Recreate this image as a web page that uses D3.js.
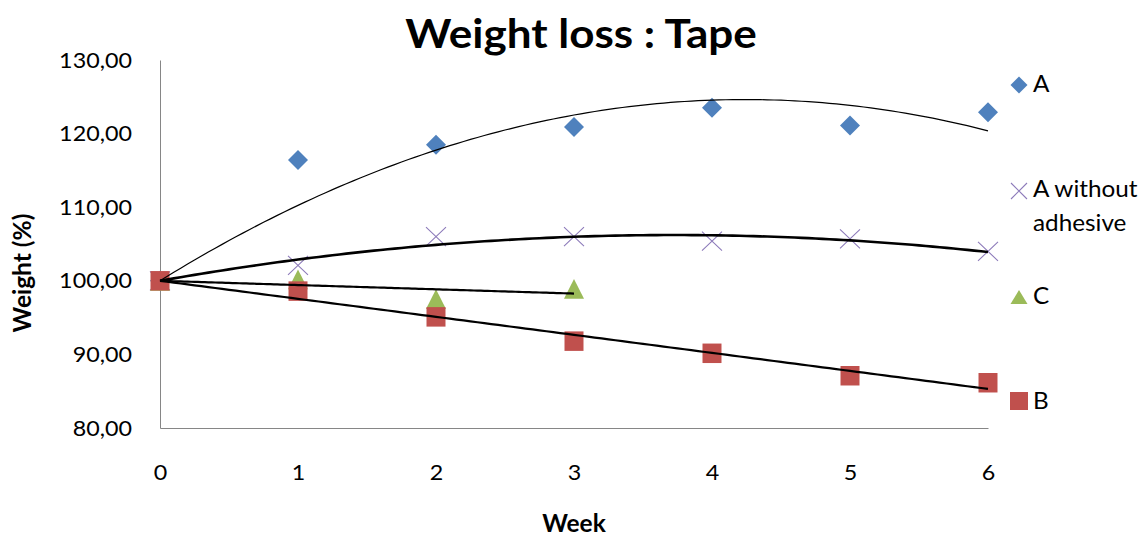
<!DOCTYPE html>
<html><head><meta charset="utf-8">
<script src="https://cdn.jsdelivr.net/npm/d3@7"></script>
<style>
body{margin:0;background:#fff}
svg{display:block}
text{font-family:Lato,"Open Sans",sans-serif;fill:#000}
</style>
</head><body>
<svg id="chart" width="1144" height="536"></svg>
<script>
// ---- data ----
const weeks = [0, 1, 2, 3, 4, 5, 6];
const weeksC = [0, 1, 2, 3];
const seriesA = [100, 116.4, 118.5, 120.9, 123.5, 121.1, 122.9];
const seriesAwo = [100, 102.1, 106.0, 106.0, 105.4, 105.7, 104.0];
const seriesC = [100, 100.2, 97.5, 98.9];
const seriesB = [100, 98.6, 95.1, 91.8, 90.15, 87.1, 86.15];
const yTicks = [80, 90, 100, 110, 120, 130];
const xTicks = [0, 1, 2, 3, 4, 5, 6];
const legendNames = ["A", "A without adhesive", "C", "B"];
const titleText = "Weight loss : Tape";
const xTitle = "Week";
const yTitle = "Weight (%)";

const svg = d3.select("#chart");
const x = d3.scaleLinear().domain([0, 6]).range([160, 988]);
const y = d3.scaleLinear().domain([80, 130]).range([428, 60]);

// stretched text helper
function stext(parent, tx, ty, str, size, weight, sx, anchor, rot) {
  const g = parent.append("g").attr("transform",
    `translate(${tx},${ty})` + (rot ? ` rotate(${rot})` : "") + ` scale(${sx},1)`);
  g.append("text").attr("text-anchor", anchor || "start")
    .style("font-size", size + "px").style("font-weight", weight || "normal").text(str);
  return g;
}

// ---- axes ----
const fmt = v => d3.format(".2f")(v).replace(".", ",");
const tickSX = 1.06;
const yAx = svg.append("g").attr("transform", `translate(${x(0)},0)`)
  .call(d3.axisLeft(y).tickValues(yTicks).tickSize(0).tickPadding(28).tickFormat(fmt));
yAx.select(".domain").attr("stroke", "#868686");
yAx.selectAll(".tick text").style("font-size", "22px").style("font-family", "Lato")
  .attr("fill", "#000")
  .attr("x", -28 / tickSX).attr("transform", `scale(${tickSX},1)`);

const xAx = svg.append("g").attr("transform", `translate(0,${y(80)})`)
  .call(d3.axisBottom(x).tickValues(xTicks).tickSize(0).tickPadding(36).tickFormat(d3.format("d")));
xAx.select(".domain").attr("stroke", "#868686");
xAx.selectAll(".tick text").style("font-size", "22px").style("font-family", "Lato")
  .attr("fill", "#000").attr("transform", `scale(${tickSX},1)`);

// ---- marker shapes ----
const shapes = {
  diamond: (w, h) => `M0,${-h/2}L${w/2},0L0,${h/2}L${-w/2},0Z`,
  square: (w, h) => `M${-w/2},${-h/2}H${w/2}V${h/2}H${-w/2}Z`,
  triangle: (w, h) => `M0,${-h/2}L${w/2},${h/2}L${-w/2},${h/2}Z`,
  cross: (w, h) => `M${-w/2},${-h/2}L${w/2},${h/2}M${w/2},${-h/2}L${-w/2},${h/2}`
};

const series = [
  {name: legendNames[0], xs: weeks, ys: seriesA, shape: "diamond", color: "#4F81BD", w: 20, h: 20, order: 2, lw: 1.2, ly: 85, lw2: 17, lh2: 17},
  {name: legendNames[1], xs: weeks, ys: seriesAwo, shape: "cross", color: "#8D7BBA", w: 20, h: 19, order: 2, lw: 2.6, ly: 191, lw2: 16, lh2: 16},
  {name: legendNames[2], xs: weeksC, ys: seriesC, shape: "triangle", color: "#9BBB59", w: 20, h: 19.7, order: 1, lw: 2.2, ly: 297, lw2: 17, lh2: 14},
  {name: legendNames[3], xs: weeks, ys: seriesB, shape: "square", color: "#C0504D", w: 19, h: 19.5, order: 1, lw: 2.2, ly: 401, lw2: 18, lh2: 18}
];

function drawMarker(g, s, cx, cy, w, h) {
  const p = g.append("path").attr("d", shapes[s.shape](w, h))
    .attr("transform", `translate(${cx},${cy})`);
  if (s.shape === "cross") p.attr("fill", "none").attr("stroke", s.color).attr("stroke-width", 1.1);
  else p.attr("fill", s.color);
}

// markers
const mg = svg.append("g");
series.forEach(s => {
  s.ys.forEach((v, i) => drawMarker(mg, s, x(s.xs[i]), y(v), s.w, s.h));
});

// ---- trendlines: least squares through fixed intercept (first value) ----
function fit(xs, ys, order) {
  const c0 = ys[0];
  const d = ys.map(v => v - c0);
  if (order === 1) {
    const b = d3.sum(xs, (xx, i) => xx * d[i]) / d3.sum(xs, xx => xx * xx);
    return t => c0 + b * t;
  }
  const s2 = d3.sum(xs, v => v ** 2), s3 = d3.sum(xs, v => v ** 3), s4 = d3.sum(xs, v => v ** 4);
  const t1 = d3.sum(xs, (v, i) => v * d[i]), t2 = d3.sum(xs, (v, i) => v * v * d[i]);
  const det = s2 * s4 - s3 * s3;
  const b = (t1 * s4 - s3 * t2) / det, c = (s2 * t2 - s3 * t1) / det;
  return t => c0 + b * t + c * t * t;
}
const tg = svg.append("g");
series.forEach(s => {
  const f = fit(s.xs, s.ys, s.order);
  const xmax = d3.max(s.xs);
  const pts = d3.range(0, xmax + 1e-9, xmax / 120).map(t => [x(t), y(f(t))]);
  tg.append("path").attr("d", d3.line()(pts)).attr("fill", "none")
    .attr("stroke", "#000").attr("stroke-width", s.lw);
});

// ---- legend ----
const lg = svg.append("g");
const legSX = 1.08;
series.forEach(s => {
  drawMarker(lg, s, 1019, s.ly, s.lw2, s.lh2);
});
stext(lg, 1033, 92, "A", 22.5, "normal", legSX);
stext(lg, 1033, 197, "A without", 22.5, "normal", legSX);
stext(lg, 1033, 231, "adhesive", 22.5, "normal", legSX);
stext(lg, 1033, 304, "C", 22.5, "normal", legSX);
stext(lg, 1033, 409, "B", 22.5, "normal", legSX);

// ---- titles ----
stext(svg, 581, 48, titleText, 40, "bold", 1.1, "middle");
stext(svg, 574, 532, xTitle, 24.5, "bold", 1.0, "middle");
stext(svg, 31, 273, yTitle, 24.5, "bold", 1.0, "middle", -90);
</script>
</body></html>
